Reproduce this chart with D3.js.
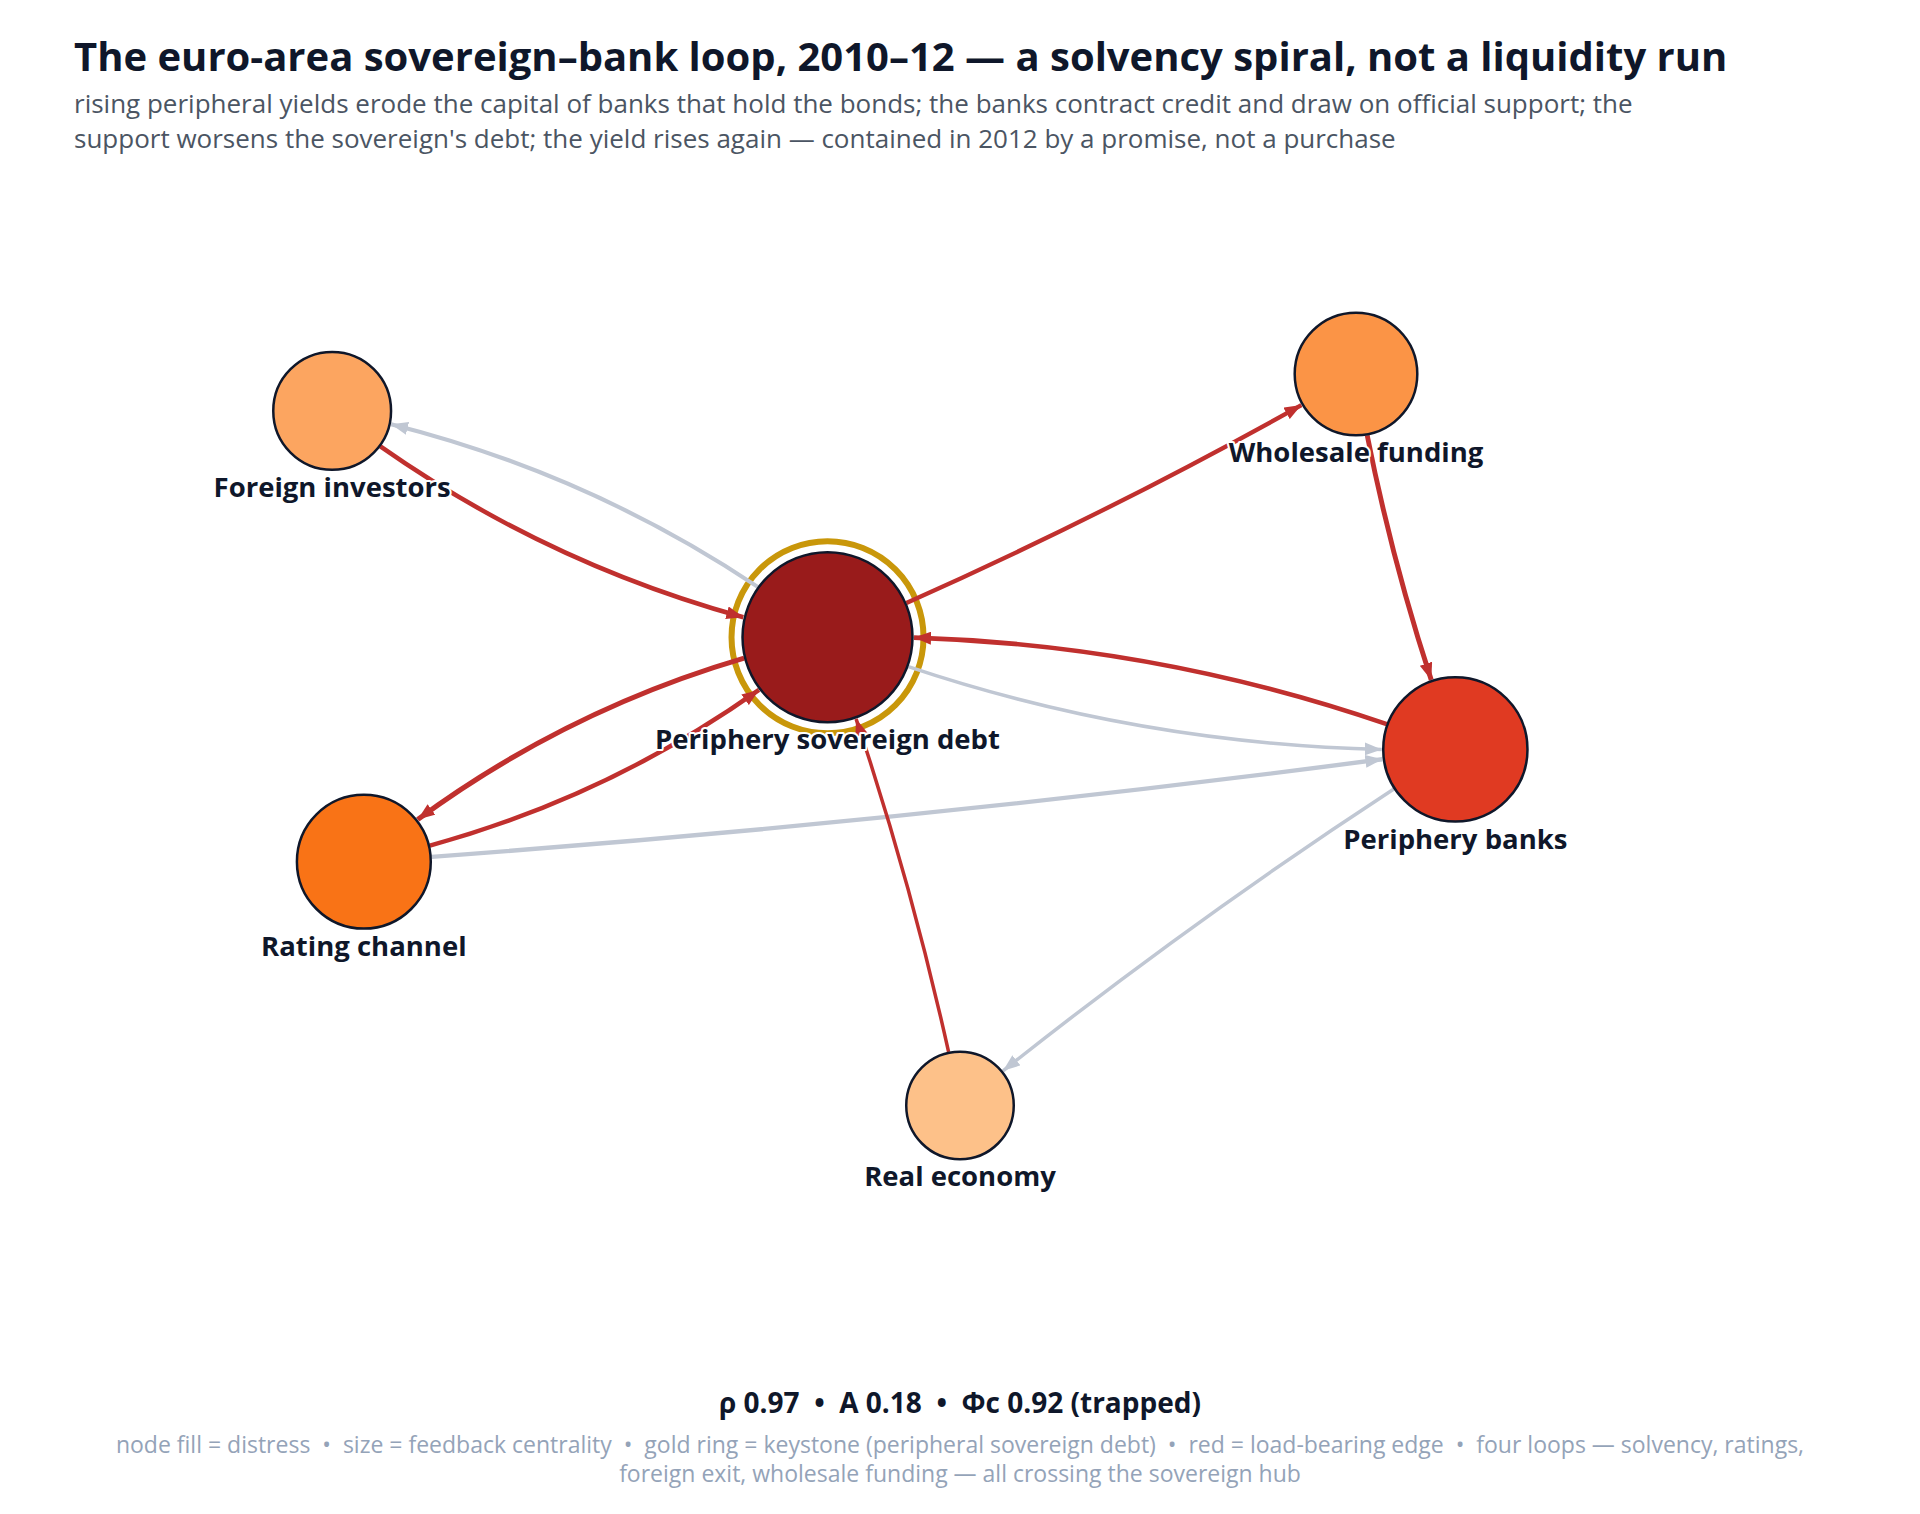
<!DOCTYPE html>
<html>
<head>
<meta charset="utf-8">
<script src="https://cdn.jsdelivr.net/npm/d3@7"></script>
<style>
    html, body { margin: 0; padding: 0; background: #fff; }
    svg { display: block; font-family: "Open Sans", "Noto Sans", sans-serif; }
</style>
</head>
<body>
<svg id="chart" width="1920" height="1514"></svg>
<script>
var title = "The euro-area sovereign\u2013bank loop, 2010\u201312 \u2014 a solvency spiral, not a liquidity run";
var subtitleLines = [
    "rising peripheral yields erode the capital of banks that hold the bonds; the banks contract credit and draw on official support; the",
    "support worsens the sovereign's debt; the yield rises again \u2014 contained in 2012 by a promise, not a purchase"
];

var nodeIds = ["sov", "banks", "rating", "wholesale", "foreign", "real"];
var nodeNames = ["Periphery sovereign debt", "Periphery banks", "Rating channel", "Wholesale funding", "Foreign investors", "Real economy"];
var distress = [0.95, 0.80, 0.60, 0.47, 0.40, 0.29];
var centrality = [1.00, 0.72, 0.62, 0.52, 0.48, 0.40];
var keystone = "sov";

// layout coordinates (0-100 grid) of the drawn network
var layoutX = [40.8, 84.4, 8.6, 77.5, 6.4, 50.0];
var layoutY = [41.0, 53.2, 65.4, 12.4, 16.4, 91.9];

var edgeSource = ["foreign", "sov", "wholesale", "banks", "sov", "rating", "real", "sov", "sov", "rating", "banks"];
var edgeTarget = ["sov", "wholesale", "banks", "sov", "rating", "sov", "sov", "foreign", "banks", "banks", "real"];
var edgeWeight = [0.75, 0.72, 0.85, 0.78, 0.92, 0.75, 0.50, 0.65, 0.50, 0.72, 0.50];
var loadBearing = [true, true, true, true, true, true, true, false, false, false, false];

var statNames = ["\u03c1", "A", "\u03a6c"];
var statValues = [0.97, 0.18, 0.92];
var regime = "trapped";

var footnoteLines = [
    "node fill = distress  \u2022  size = feedback centrality  \u2022  gold ring = keystone (peripheral sovereign debt)  \u2022  red = load-bearing edge  \u2022  four loops \u2014 solvency, ratings,",
    "foreign exit, wholesale funding \u2014 all crossing the sovereign hub"
];

var svg = d3.select('#chart');
var W = 1920, H = 1514;

svg.append('rect').attr('width', W).attr('height', H).attr('fill', '#fff');

svg.append('text')
    .text(title)
    .attr('x', 74)
    .attr('y', 71)
    .attr('fill', '#0f172a')
    .style('font-size', '40px')
    .style('font-weight', 700)
;

svg.selectAll('.subtitle')
    .data(subtitleLines)
    .enter()
    .append('text')
    .attr('class', 'subtitle')
    .text(function(d) { return d; })
    .attr('x', 74)
    .attr('y', function(d, i) { return 113 + i * 35; })
    .attr('fill', '#4b5563')
    .style('font-size', '26px')
;

var x = d3.scaleLinear().domain([0, 100]).range([240, 1680]);
var y = d3.scaleLinear().domain([0, 100]).range([260, 1180]);
var radius = d3.scaleSqrt().domain([0, 1]).range([0, 85]);
var color = d3.scaleLinear()
    .domain([0.2, 0.6, 0.8, 0.95])
    .range(["#fed7aa", "#f97316", "#e03a22", "#991b1b"])
    .clamp(true);
var width = d3.scaleLinear().domain([0, 1]).range([1.5, 5.5]);

var nodes = nodeIds.map(function(id, i) {
    return {
        id: id,
        name: nodeNames[i],
        x: x(layoutX[i]),
        y: y(layoutY[i]),
        r: radius(centrality[i]),
        fill: color(distress[i])
    };
});
var byId = {};
nodes.forEach(function(n) { byId[n.id] = n; });

var edges = edgeSource.map(function(s, i) {
    return { source: byId[s], target: byId[edgeTarget[i]], weight: edgeWeight[i], red: loadBearing[i] };
});
edges.forEach(function(e) {
    e.pair = edges.some(function(o) { return o.source === e.target && o.target === e.source; });
});

var RED = "#c0302e", GREY = "#c0c7d3";

var defs = svg.append('defs');
[["arrow-red", RED], ["arrow-grey", GREY]].forEach(function(m) {
    defs.append('marker')
        .attr('id', m[0])
        .attr('viewBox', '0 0 17 13')
        .attr('refX', 17)
        .attr('refY', 6.5)
        .attr('markerWidth', 17)
        .attr('markerHeight', 13)
        .attr('markerUnits', 'userSpaceOnUse')
        .attr('orient', 'auto')
        .append('path')
        .attr('d', 'M0,0L17,6.5L0,13Z')
        .attr('fill', m[1]);
});

function bez(p0, p1, p2, t) {
    var u = 1 - t;
    return [u * u * p0[0] + 2 * u * t * p1[0] + t * t * p2[0], u * u * p0[1] + 2 * u * t * p1[1] + t * t * p2[1]];
}

function edgePath(e) {
    var s = e.source, t = e.target;
    var dx = t.x - s.x, dy = t.y - s.y, dist = Math.sqrt(dx * dx + dy * dy);
    var bow = e.pair ? 64 : 18;
    var p0 = [s.x, s.y], p2 = [t.x, t.y];
    var p1 = [(s.x + t.x) / 2 - dy / dist * bow, (s.y + t.y) / 2 + dx / dist * bow];
    // trim the curve to the node borders
    function solve(node, rr, fromStart) {
        var lo = 0, hi = 1;
        for (var k = 0; k < 40; k++) {
            var mid = (lo + hi) / 2, p = bez(p0, p1, p2, mid);
            var inside = Math.hypot(p[0] - node.x, p[1] - node.y) < rr;
            if (fromStart) { if (inside) lo = mid; else hi = mid; }
            else { if (inside) hi = mid; else lo = mid; }
        }
        return (lo + hi) / 2;
    }
    var a = solve(s, s.r + 1, true), b = solve(t, t.r + 1.5, false);
    var q0 = bez(p0, p1, p2, a), q2 = bez(p0, p1, p2, b);
    var c0 = (1 - a) * (1 - b), c1 = (1 - a) * b + a * (1 - b), c2 = a * b;
    var q1 = [c0 * p0[0] + c1 * p1[0] + c2 * p2[0], c0 * p0[1] + c1 * p1[1] + c2 * p2[1]];
    var path = d3.path();
    path.moveTo(q0[0], q0[1]);
    path.quadraticCurveTo(q1[0], q1[1], q2[0], q2[1]);
    return path.toString();
}

var hub = byId[keystone];
svg.append('circle')
    .attr('cx', hub.x)
    .attr('cy', hub.y)
    .attr('r', hub.r + 11)
    .attr('fill', 'none')
    .attr('stroke', '#c9970a')
    .attr('stroke-width', 6)
;

svg.append('g')
    .selectAll('path')
    .data(edges.filter(function(e) { return !e.red; }).concat(edges.filter(function(e) { return e.red; })))
    .enter()
    .append('path')
    .attr('d', edgePath)
    .attr('fill', 'none')
    .attr('stroke', function(d) { return d.red ? RED : GREY; })
    .attr('stroke-width', function(d) { return width(d.weight); })
    .attr('marker-end', function(d) { return d.red ? 'url(#arrow-red)' : 'url(#arrow-grey)'; })
;

svg.append('g')
    .selectAll('circle')
    .data(nodes)
    .enter()
    .append('circle')
    .attr('cx', function(d) { return d.x; })
    .attr('cy', function(d) { return d.y; })
    .attr('r', function(d) { return d.r; })
    .attr('fill', function(d) { return d.fill; })
    .attr('stroke', '#0f172a')
    .attr('stroke-width', 2.5)
;

svg.append('g')
    .selectAll('text')
    .data(nodes)
    .enter()
    .append('text')
    .text(function(d) { return d.name; })
    .attr('x', function(d) { return d.x; })
    .attr('y', function(d) { return d.y + d.r + 27; })
    .attr('text-anchor', 'middle')
    .attr('fill', '#0f172a')
    .attr('stroke', '#fff')
    .attr('stroke-width', 4)
    .attr('stroke-linejoin', 'round')
    .style('paint-order', 'stroke')
    .style('font-size', '27.5px')
    .style('font-weight', 700)
;

svg.append('text')
    .text(statNames.map(function(n, i) { return n + " " + statValues[i].toFixed(2); }).join("  \u2022  ") + " (" + regime + ")")
    .attr('x', W / 2)
    .attr('y', 1413)
    .attr('text-anchor', 'middle')
    .attr('fill', '#0f172a')
    .style('white-space', 'pre')
    .style('font-size', '28px')
    .style('font-weight', 700)
;

svg.selectAll('.footnote')
    .data(footnoteLines)
    .enter()
    .append('text')
    .attr('class', 'footnote')
    .text(function(d) { return d; })
    .attr('x', W / 2)
    .attr('y', function(d, i) { return 1453 + i * 29; })
    .attr('text-anchor', 'middle')
    .attr('fill', '#94a3b8')
    .style('white-space', 'pre')
    .style('font-size', '23px')
;
</script>
</body>
</html>
